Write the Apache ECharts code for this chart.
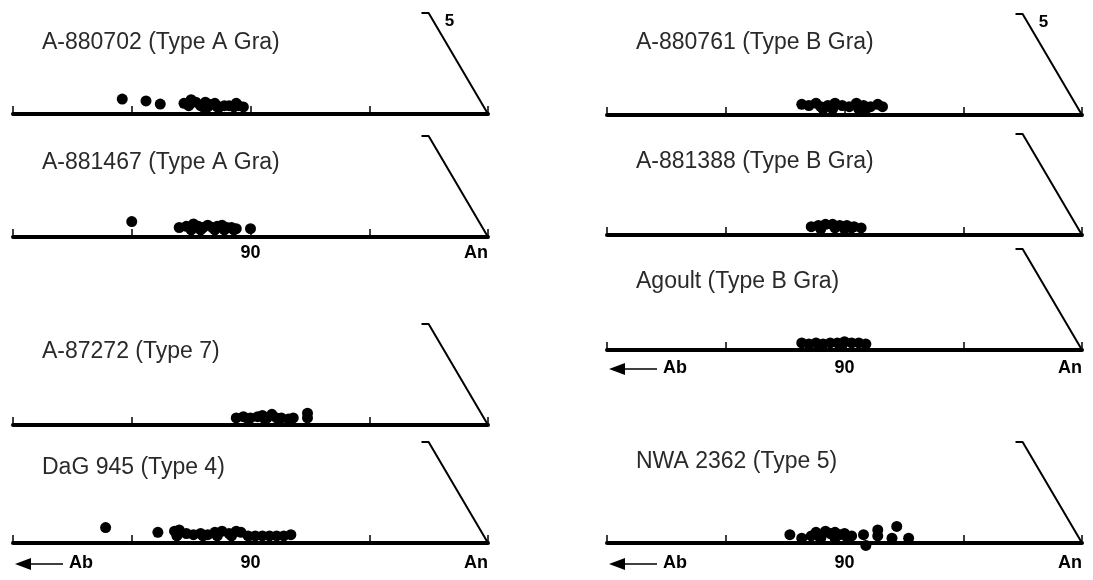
<!DOCTYPE html>
<html>
<head>
<meta charset="utf-8">
<script src="https://cdn.jsdelivr.net/npm/echarts@6/dist/echarts.min.js"></script>
<style>
  html, body { margin: 0; padding: 0; background: #fff; }
  #main { width: 1093px; height: 580px; }
</style>
</head>
<body>
<div id="main"></div>
<script>
// panel names (left column top to bottom, then right column)
var panelNames = [
    'A-880702 (Type A Gra)', 'A-881467 (Type A Gra)', 'A-87272 (Type 7)', 'DaG 945 (Type 4)',
    'A-880761 (Type B Gra)', 'A-881388 (Type B Gra)', 'Agoult (Type B Gra)', 'NWA 2362 (Type 5)'
];

// points: [An (projected), height above Ab-An join (projected)]
var ptsA880702 = [[84.6, 0.63], [85.6, 0.55], [86.2, 0.42], [87.2, 0.45], [87.5, 0.6], [87.7, 0.5], [87.9, 0.35],
    [88.1, 0.5], [88.3, 0.4], [88.5, 0.45], [88.7, 0.3], [88.9, 0.35], [89.1, 0.35], [89.3, 0.3],
    [89.5, 0.35], [89.7, 0.3], [88.0, 0.3], [88.6, 0.3], [87.4, 0.35], [89.4, 0.45], [88.2, 0.3]];
var ptsA881467 = [[85.0, 0.65], [87.0, 0.4], [87.3, 0.45], [87.6, 0.55], [87.8, 0.45], [88.0, 0.4], [88.2, 0.5],
    [88.4, 0.4], [88.6, 0.45], [88.8, 0.5], [89.0, 0.4], [89.2, 0.4], [89.4, 0.35], [90.0, 0.35],
    [87.9, 0.3], [88.9, 0.3], [87.5, 0.3], [88.5, 0.3], [89.3, 0.3]];
var ptsA87272 = [[89.4, 0.3], [89.7, 0.35], [90.0, 0.3], [90.3, 0.35], [90.5, 0.4], [90.7, 0.3], [90.9, 0.45],
    [91.1, 0.3], [91.3, 0.3], [91.6, 0.25], [91.8, 0.3], [92.4, 0.5], [92.4, 0.3], [89.9, 0.25], [90.6, 0.25]];
var ptsDaG945 = [[83.9, 0.65], [86.1, 0.45], [86.8, 0.5], [87.0, 0.55], [87.3, 0.4], [87.6, 0.35], [87.9, 0.4],
    [88.2, 0.35], [88.5, 0.45], [88.8, 0.5], [89.1, 0.4], [89.4, 0.5], [89.6, 0.45], [89.9, 0.3],
    [90.2, 0.3], [90.5, 0.3], [90.8, 0.3], [91.1, 0.3], [91.4, 0.3], [91.7, 0.35], [88.0, 0.3], [88.6, 0.3],
    [86.9, 0.3], [89.2, 0.3]];
var ptsA880761 = [[88.2, 0.45], [88.5, 0.4], [88.8, 0.5], [89.0, 0.35], [89.3, 0.4], [89.6, 0.5], [89.9, 0.4],
    [90.2, 0.35], [90.5, 0.5], [90.8, 0.4], [91.1, 0.35], [91.4, 0.45], [91.6, 0.35], [89.5, 0.25], [90.6, 0.25],
    [89.1, 0.25], [90.9, 0.25]];
var ptsA881388 = [[88.6, 0.35], [88.9, 0.4], [89.2, 0.45], [89.5, 0.45], [89.8, 0.4], [90.1, 0.4], [90.4, 0.35],
    [90.7, 0.3], [89.0, 0.25], [90.0, 0.25], [89.6, 0.3], [90.3, 0.3]];
var ptsAgoult = [[88.2, 0.3], [88.5, 0.25], [88.8, 0.3], [89.1, 0.25], [89.4, 0.3], [89.7, 0.3], [90.0, 0.35],
    [90.3, 0.3], [90.6, 0.3], [90.9, 0.25], [89.0, 0.2], [89.9, 0.2]];
var ptsNWA2362 = [[87.7, 0.35], [88.2, 0.2], [88.6, 0.3], [88.8, 0.45], [89.0, 0.35], [89.2, 0.5], [89.4, 0.4],
    [89.6, 0.45], [89.8, 0.35], [90.0, 0.4], [90.3, 0.3], [90.8, 0.35], [90.9, -0.1], [91.4, 0.55],
    [91.4, 0.3], [92.0, 0.2], [92.2, 0.7], [92.7, 0.2], [89.0, 0.2], [89.6, 0.2], [88.9, 0.3], [90.1, 0.25]];

var panelData = [ptsA880702, ptsA881467, ptsA87272, ptsDaG945, ptsA880761, ptsA881388, ptsAgoult, ptsNWA2362];

// An-Or join up to Or = 5 (with small cap at the top)
var orEdge = [[97.2, 4.25], [97.5, 4.25], [100, 0]];
var orEdgeLabel = '5';

// axis range (An)
var xMin = 80, xMax = 100, xStep = 5;
var yMax = 4.5;

// layout of the 8 panels
var unit = 23.75;
var gridW = (xMax - xMin) * unit;
var gridH = yMax * unit;
var layout = [
    {left: 13, axisY: 114, titleY: 42, labels: 'none', five: true},
    {left: 13, axisY: 237, titleY: 162, labels: 'an', five: false, margin: 7},
    {left: 13, axisY: 425, titleY: 351, labels: 'none', five: false},
    {left: 13, axisY: 543, titleY: 467, labels: 'ab', five: false, margin: 11},
    {left: 607, axisY: 115, titleY: 42, labels: 'none', five: true},
    {left: 607, axisY: 235, titleY: 161, labels: 'none', five: false},
    {left: 607, axisY: 350, titleY: 281, labels: 'ab', five: false, margin: 9},
    {left: 607, axisY: 543, titleY: 461, labels: 'ab', five: false, margin: 11}
];

var myChart = echarts.init(document.getElementById('main'));

var grids = [], xAxes = [], yAxes = [], series = [], titles = [], graphics = [];
layout.forEach(function (p, i) {
    grids.push({left: p.left, top: p.axisY - gridH, width: gridW, height: gridH, outerBoundsMode: 'none'});
    xAxes.push({
        gridIndex: i, type: 'value', min: xMin, max: xMax, interval: xStep,
        axisLine: {lineStyle: {color: '#000', width: 4}},
        axisTick: {inside: true, length: 8, lineStyle: {color: '#000', width: 1.5}},
        splitLine: {show: false},
        axisLabel: {
            show: p.labels !== 'none',
            margin: p.margin || 10,
            alignMaxLabel: 'right',
            color: '#000', fontSize: 18, fontWeight: 'bold', fontFamily: 'Liberation Sans',
            formatter: function (v) {
                if (v === 90) return '90';
                if (v === 100) return 'An';
                return '';
            }
        }
    });
    yAxes.push({gridIndex: i, type: 'value', min: 0, max: yMax, show: false});
    series.push({
        type: 'scatter', xAxisIndex: i, yAxisIndex: i, clip: false,
        symbol: 'circle', symbolSize: 11,
        itemStyle: {color: '#000', opacity: 1},
        data: panelData[i]
    });
    var edge = orEdge.map(function (d, k) {
        if (k === 1 && p.five) {
            return {
                value: d,
                label: {
                    show: true, formatter: orEdgeLabel, position: 'right', distance: 4, offset: [12, 8],
                    color: '#000', fontSize: 17, fontWeight: 'bold', fontFamily: 'Liberation Sans'
                }
            };
        }
        return d;
    });
    series.push({
        type: 'line', xAxisIndex: i, yAxisIndex: i, clip: false,
        showSymbol: true, symbolSize: 0, silent: true,
        lineStyle: {color: '#000', width: 2},
        data: edge
    });
    titles.push({
        text: panelNames[i], left: p.left + 29, top: p.titleY - 11, padding: 0,
        textStyle: {color: '#2a2a2a', fontSize: 23, fontWeight: 'normal', fontFamily: 'Liberation Sans'}
    });
    if (p.labels === 'ab') {
        var ly = p.axisY + (p.margin || 10) + 10;
        graphics.push({
            type: 'group', left: p.left + 2, top: ly - 6,
            children: [
                {type: 'polygon', shape: {points: [[0, 6], [16, 0], [16, 12]]}, style: {fill: '#000'}},
                {type: 'line', shape: {x1: 14, y1: 6, x2: 48, y2: 6}, style: {stroke: '#000', lineWidth: 1.5}}
            ]
        });
        graphics.push({
            type: 'text', left: p.left + 56, top: ly - 10,
            style: {text: 'Ab', fill: '#000', font: 'bold 18px "Liberation Sans"'}
        });
    }
});

var option = {
    animation: false,
    backgroundColor: '#fff',
    title: titles,
    grid: grids,
    xAxis: xAxes,
    yAxis: yAxes,
    series: series,
    graphic: graphics
};
myChart.setOption(option);
</script>
</body>
</html>
